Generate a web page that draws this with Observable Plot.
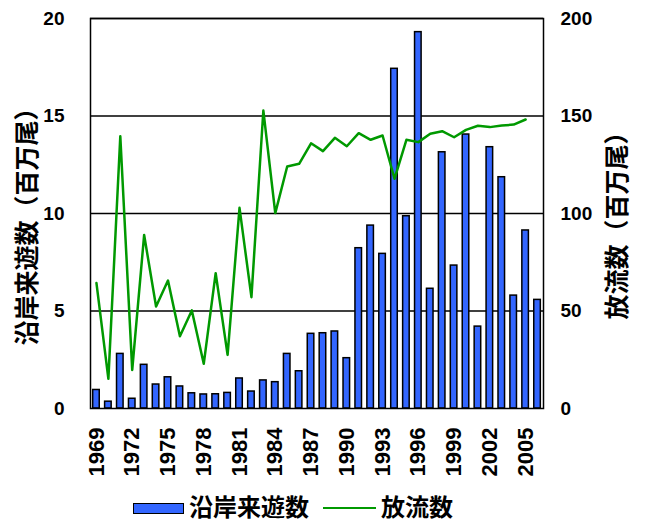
<!DOCTYPE html>
<html>
<head>
<meta charset="utf-8">
<script src="https://cdn.jsdelivr.net/npm/d3@7"></script>
<script src="https://cdn.jsdelivr.net/npm/@observablehq/plot@0.6"></script>
<style>
  html, body { margin: 0; padding: 0; background: white; }
  #wrap { width: 647px; height: 521px; position: relative; overflow: hidden; }
  .legend { position: absolute; left: 133px; top: 493px; display: flex; align-items: center; height: 30px; line-height: 30px;
    font-family: 'Liberation Sans', 'Noto Sans CJK JP', sans-serif; font-weight: bold; font-size: 24px; color: black; white-space: nowrap; }
  .sw-bar { width: 49px; height: 9px; background: #3366ff; border: 1.5px solid black; margin-right: 5px; }
  .sw-line { width: 53px; height: 2.5px; background: #009900; margin-left: 14px; margin-right: 5px; }
</style>
</head>
<body>
<div id="wrap"></div>
<script>
const years = d3.range(1969, 2007);
const coastal = [0.95,0.35,2.8,0.5,2.24,1.23,1.6,1.13,0.78,0.72,
                 0.73,0.8,1.54,0.87,1.44,1.35,2.8,1.91,3.83,3.86,
                 3.95,2.58,8.22,9.38,7.93,17.42,9.86,19.3,6.14,13.14,
                 7.33,14.05,4.2,13.4,11.86,5.79,9.13,5.57];
const release = [64.3,15.2,139.6,19.8,89,52.3,65.6,37.1,50.3,22.9,
                 69.4,27.5,102.9,57.1,152.8,100.2,124.1,125.5,136,132,
                 138.8,134.5,141.2,137.8,140,117.8,137.8,136.6,140.9,142.2,
                 139.1,142.9,145,144.3,145.1,145.6,148.2,null];
const leftTicks = [0, 5, 10, 15, 20];
const yearTicks = years.filter((d, i) => i % 3 === 0);
const leftTitle = "沿岸来遊数（百万尾）";
const rightTitle = "放流数（百万尾）";
const seriesNames = ["沿岸来遊数", "放流数"];

const barData = years.map((y, i) => ({year: y, value: coastal[i]}));
const lineData = years.map((y, i) => ({year: y, value: release[i]})).filter(d => d.value != null);

const chart = Plot.plot({
  width: 647, height: 493,
  marginLeft: 90, marginRight: 104, marginTop: 18, marginBottom: 85,
  style: {fontFamily: "'Liberation Sans', 'Noto Sans CJK JP', sans-serif", fontSize: "19px", fontWeight: "bold", color: "black", background: "white"},
  x: {type: "band", domain: years, paddingInner: 0.45, paddingOuter: 0.225},
  y: {domain: [0, 20]},
  marks: [
    Plot.ruleY(leftTicks.slice(1), {stroke: "black", strokeWidth: 1.5}),
    Plot.barY(barData, {x: "year", y: "value", fill: "#3366ff", stroke: "black", strokeWidth: 1.5}),
    Plot.line(lineData, {x: "year", y: d => d.value / 10, stroke: "#009900", strokeWidth: 2.5}),
    Plot.frame({stroke: "black", strokeWidth: 1.5}),
    Plot.axisY({anchor: "left", ticks: leftTicks, tickSize: 0, tickPadding: 26, label: null}),
    Plot.axisY({anchor: "right", ticks: leftTicks, tickFormat: d => String(d * 10), tickSize: 0, tickPadding: 17, label: null}),
    Plot.axisX({ticks: yearTicks, tickFormat: d => String(d), tickRotate: -90, tickSize: 0, tickPadding: 19, fontSize: 22, label: null}),
    Plot.text([leftTitle], {frameAnchor: "left", textAnchor: "middle", dx: -63, dy: 7, rotate: -90, fontSize: 25, fontWeight: "bold"}),
    Plot.text([rightTitle], {frameAnchor: "right", textAnchor: "middle", dx: 74, dy: 6, rotate: -90, fontSize: 25, fontWeight: "bold"})
  ]
});
const wrap = document.getElementById("wrap");
wrap.appendChild(chart);
const leg = document.createElement("div");
leg.className = "legend";
leg.innerHTML = `<div class="sw-bar"></div><span>${seriesNames[0]}</span><div class="sw-line"></div><span>${seriesNames[1]}</span>`;
wrap.appendChild(leg);
</script>
</body>
</html>
